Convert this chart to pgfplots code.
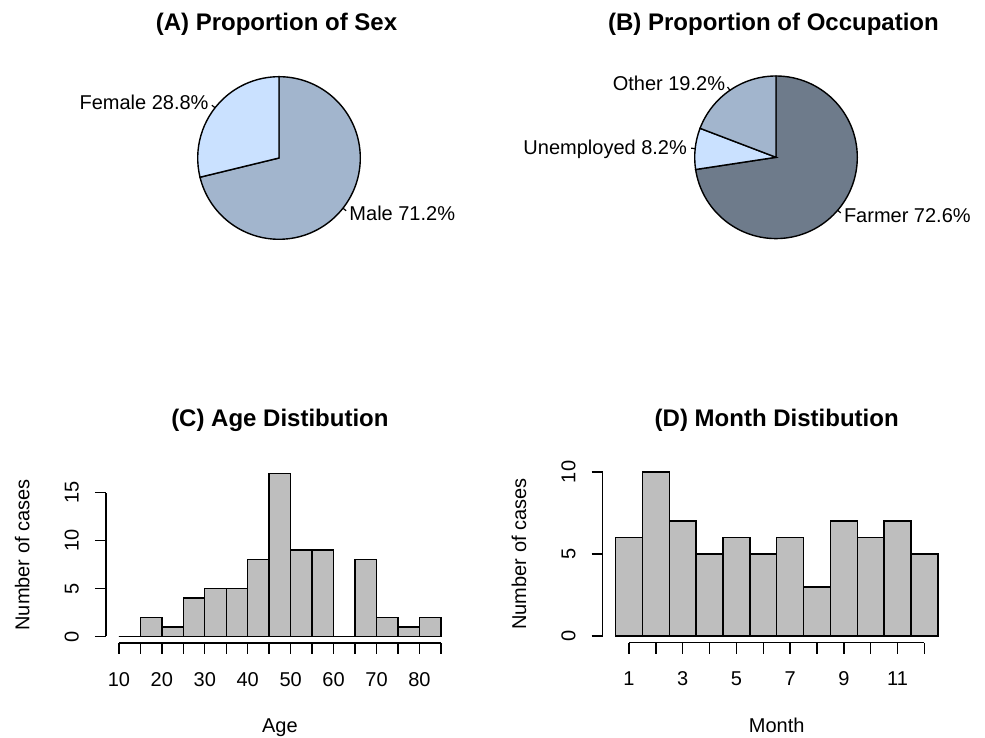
\documentclass[border=0pt]{standalone}
\usepackage{fontspec}
\setmainfont{Liberation Sans}
\usepackage{pgfplots}
\pgfplotsset{compat=1.18}
\definecolor{lsbone}{HTML}{CAE1FF}
\definecolor{lsbthree}{HTML}{A2B5CD}
\definecolor{lsbfour}{HTML}{6E7B8B}
\definecolor{histgray}{HTML}{BEBEBE}
\newcommand{\nf}{\fontsize{20}{24}\selectfont}
\newcommand{\tf}{\fontsize{24}{29}\selectfont\bfseries}
\tikzset{lab/.style={font=\nf, inner sep=0pt, text height=14.3pt, text depth=0pt}}
\pgfplotsset{
  pieaxis/.style={hide axis, scale only axis, width=203.2pt, height=203.2pt,
    xmin=-1, xmax=1, ymin=-1, ymax=1, clip=false, anchor=center},
  histaxis/.style={scale only axis, clip=false, axis line style={draw=none},
    tick align=outside, tick pos=left, major tick length=11pt,
    tick style={black, line width=1.4pt},
    every tick label/.append style={font=\nf, inner sep=0pt},
    xticklabel style={anchor=north}, yticklabel style={rotate=90, anchor=south},
    xticklabel shift=18pt, yticklabel shift=16pt,
    every axis x label/.style={at={(axis description cs:0.5,-0.508)}, anchor=base, font=\nf},
    every axis y label/.style={at={(axis description cs:-0.22,0.5)}, rotate=90, anchor=base, font=\nf},
    every axis title/.style={at={(axis description cs:0.5,1.23)}, anchor=base, font=\tf},
    anchor=south west},
}
\begin{document}
\begin{tikzpicture}[x=1pt, y=1pt]
\path[use as bounding box] (0,0) rectangle (985,738);

% (A) Proportion of Sex: Male 71.2, Female 28.8
\begin{axis}[pieaxis, at={(279pt,580pt)}]
\filldraw[fill=lsbthree, draw=black, line width=1.4pt] (axis cs:0,0) -- ++(90:81.3pt)
  arc[start angle=90, end angle={90-71.2*3.6}, radius=81.3pt] -- cycle;
\filldraw[fill=lsbone, draw=black, line width=1.4pt] (axis cs:0,0) -- ++({90-71.2*3.6}:81.3pt)
  arc[start angle={90-71.2*3.6}, end angle={90-100*3.6}, radius=81.3pt] -- cycle;
\draw[line width=1.2pt] (axis cs:0,0) ++({90-71.2*1.8}:81.3pt) -- ++({90-71.2*1.8}:4.1pt);
\draw[line width=1.2pt] (axis cs:0,0) ++({90-71.2*3.6-28.8*1.8}:81.3pt) -- ++({90-71.2*3.6-28.8*1.8}:4.1pt);
\path (axis cs:0,0) ++({90-71.2*1.8}:89.4pt) node[lab, anchor=west] {Male 71.2\%};
\path (axis cs:0,0) ++({90-71.2*3.6-28.8*1.8}:89.4pt) node[lab, anchor=east] {Female 28.8\%};
\node[font=\tf, anchor=base] at (axis cs:-0.025,1.25) {(A) Proportion of Sex};
\end{axis}

% (B) Proportion of Occupation: Farmer 72.6, Unemployed 8.2, Other 19.2
\begin{axis}[pieaxis, at={(776pt,580.7pt)}]
\filldraw[fill=lsbfour, draw=black, line width=1.4pt] (axis cs:0,0) -- ++(90:81.3pt)
  arc[start angle=90, end angle={90-72.6*3.6}, radius=81.3pt] -- cycle;
\filldraw[fill=lsbone, draw=black, line width=1.4pt] (axis cs:0,0) -- ++({90-72.6*3.6}:81.3pt)
  arc[start angle={90-72.6*3.6}, end angle={90-80.8*3.6}, radius=81.3pt] -- cycle;
\filldraw[fill=lsbthree, draw=black, line width=1.4pt] (axis cs:0,0) -- ++({90-80.8*3.6}:81.3pt)
  arc[start angle={90-80.8*3.6}, end angle={90-100*3.6}, radius=81.3pt] -- cycle;
\draw[line width=1.2pt] (axis cs:0,0) ++({90-72.6*1.8}:81.3pt) -- ++({90-72.6*1.8}:4.1pt);
\draw[line width=1.2pt] (axis cs:0,0) ++({90-72.6*3.6-8.2*1.8}:81.3pt) -- ++({90-72.6*3.6-8.2*1.8}:4.1pt);
\draw[line width=1.2pt] (axis cs:0,0) ++({90-80.8*3.6-19.2*1.8}:81.3pt) -- ++({90-80.8*3.6-19.2*1.8}:4.1pt);
\path (axis cs:0,0) ++({90-72.6*1.8}:89.4pt) node[lab, anchor=west] {Farmer 72.6\%};
\path (axis cs:0,0) ++({90-72.6*3.6-8.2*1.8}:89.4pt) node[lab, anchor=east] {Unemployed 8.2\%};
\path (axis cs:0,0) ++({90-80.8*3.6-19.2*1.8}:89.4pt) node[lab, anchor=east] {Other 19.2\%};
\node[font=\tf, anchor=base] at (axis cs:-0.025,1.25) {(B) Proportion of Occupation};
\end{axis}

% (C) Age Distibution
\begin{axis}[histaxis, at={(106pt,95pt)}, width=347.8pt, height=176.2pt,
  xmin=7, xmax=88, ymin=-0.68, ymax=17.68,
  xtick={10,15,...,85}, xticklabels={10,,20,,30,,40,,50,,60,,70,,80,},
  ytick={0,5,10,15}, yticklabels={0,5,10,15},
  title={(C) Age Distibution}, xlabel={Age}, ylabel={Number of cases}]
\addplot[ybar interval, fill=histgray, draw=black, line width=1.4pt] coordinates {
  (10,0) (15,2) (20,1) (25,4) (30,5) (35,5) (40,8) (45,17) (50,9) (55,9)
  (60,0) (65,8) (70,2) (75,1) (80,2) (85,2)};
\draw[line width=1.4pt] (axis cs:10,-0.68) -- (axis cs:85,-0.68);
\draw[line width=1.4pt] (axis cs:7,0) -- (axis cs:7,15);
\end{axis}

% (D) Month Distibution
\begin{axis}[histaxis, at={(602.7pt,95.4pt)}, width=348pt, height=177.2pt,
  xmin=0.02, xmax=12.98, ymin=-0.4, ymax=10.4,
  xtick={1,...,12}, xticklabels={1,,3,,5,,7,,9,,11,},
  ytick={0,5,10}, yticklabels={0,5,10},
  title style={at={(axis description cs:0.5,1.222)}},
  title={(D) Month Distibution}, xlabel={Month}, ylabel={Number of cases}]
\addplot[ybar interval, fill=histgray, draw=black, line width=1.4pt] coordinates {
  (0.5,6) (1.5,10) (2.5,7) (3.5,5) (4.5,6) (5.5,5) (6.5,6) (7.5,3)
  (8.5,7) (9.5,6) (10.5,7) (11.5,5) (12.5,5)};
\draw[line width=1.4pt] (axis cs:1,-0.4) -- (axis cs:12,-0.4);
\draw[line width=1.4pt] (axis cs:0.02,0) -- (axis cs:0.02,10);
\end{axis}
\end{tikzpicture}
\end{document}
